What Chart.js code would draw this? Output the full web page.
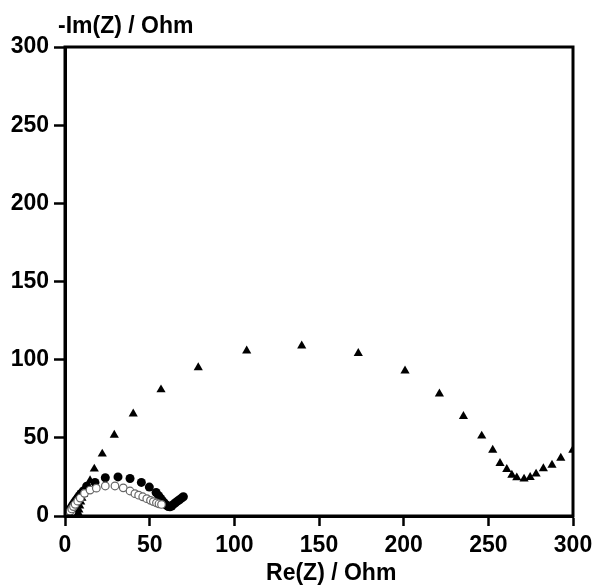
<!DOCTYPE html>
<html>
<head>
<meta charset="utf-8">
<script src="https://cdn.jsdelivr.net/npm/chart.js@4.4.1/dist/chart.umd.min.js"></script>
<style>
  html, body { margin: 0; padding: 0; background: #fff; }
  #wrap { width: 595px; height: 585px; }
</style>
</head>
<body>
<div id="wrap"><canvas id="nyquist"></canvas></div>
<script>
// Nyquist plot, three samples
const triX = [7.5, 7.8, 8.2, 8.7, 9.3, 10, 11, 12.8, 14.8, 17.3, 22.0, 29.1, 40.3, 56.7, 78.7, 107.3, 139.8, 173.2, 200.8, 221.1, 235.3, 246.1, 252.6, 256.9, 260.9, 263.9, 266.8, 271.1, 274.7, 278.2, 282.5, 287.6, 292.8, 299.9];
const triY = [0.5, 2, 4, 6.5, 9, 11.5, 14, 18, 22.6, 30.1, 39.7, 51.8, 65.3, 80.8, 94.9, 105.6, 108.8, 104.1, 92.8, 78.1, 63.8, 51.2, 42.2, 33.7, 29.9, 26.2, 24.5, 23.7, 24.8, 26.9, 30.3, 32.6, 37.1, 42.2];

const fullX = [0.8, 1.5, 2.2, 3, 3.8, 4.6, 5.4, 6.2, 7, 7.8, 8.6, 9.5, 10.8, 12.8, 17.7, 23.8, 31.3, 38.4, 45.1, 49.8, 53.8, 55.3, 56.5, 57.5, 58.5, 59.4, 60.2, 61, 62, 63, 64, 65.2, 66.4, 67.6, 68.8, 69.9];
const fullY = [0.4, 1.5, 2.8, 4.2, 5.6, 7, 8.3, 9.6, 10.8, 12, 13.2, 14.4, 16, 19, 21.5, 24.5, 25, 24, 21.5, 18.5, 15, 13, 11.3, 9.8, 8.5, 7.4, 6.6, 6.1, 5.9, 6.4, 7.4, 8.5, 9.5, 10.4, 11.4, 12.3];

const openX = [1, 2, 3, 4, 5, 6, 7.5, 9, 11.5, 14.8, 18.5, 23.8, 29.5, 34.4, 38.4, 41.3, 43.5, 45.9, 48.3, 50.5, 52.2, 54, 55.5, 57];
const openY = [0.3, 1.5, 3, 4.5, 6, 7.5, 9.5, 11.5, 14.5, 16.6, 17.8, 19.2, 19.2, 18, 16, 14.3, 13.3, 12.3, 11.1, 10, 9.2, 8.4, 7.8, 7.4];

const xTicks = [0, 50, 100, 150, 200, 250, 300];
const yTicks = [0, 50, 100, 150, 200, 250, 300];

const FONT = "'Liberation Sans', Arial, Helvetica, sans-serif";

function pts(xs, ys) {
  return xs.map((x, i) => ({ x: x, y: ys[i] }));
}

// frame on top/right plus the two axis titles
const framePlugin = {
  id: "frame",
  afterDraw(chart) {
    const { ctx, chartArea: a } = chart;
    ctx.save();
    ctx.strokeStyle = "#000";
    ctx.lineWidth = 3;
    ctx.strokeRect(a.left, a.top, a.right - a.left, a.bottom - a.top);
    ctx.fillStyle = "#000";
    ctx.font = "bold 23px " + FONT;
    ctx.textBaseline = "alphabetic";
    ctx.textAlign = "left";
    ctx.fillText("-Im(Z) / Ohm", a.left - 7, a.top - 14);
    ctx.textAlign = "center";
    ctx.fillText("Re(Z) / Ohm", a.left + (a.right - a.left) * 0.524, 580);
    ctx.restore();
  },
};

const ctx = document.getElementById("nyquist").getContext("2d");
new Chart(ctx, {
  type: "scatter",
  data: {
    datasets: [
      {
        label: "open",
        data: pts(openX, openY),
        pointStyle: "circle",
        pointRadius: 3.8,
        backgroundColor: "#fff",
        borderColor: "#666",
        borderWidth: 1.2,
      },
      {
        label: "filled",
        data: pts(fullX, fullY),
        pointStyle: "circle",
        pointRadius: 4.5,
        backgroundColor: "#000",
        borderColor: "#000",
        borderWidth: 0,
      },
      {
        label: "triangle",
        data: pts(triX, triY),
        pointStyle: "triangle",
        pointRadius: 5.3,
        backgroundColor: "#000",
        borderColor: "#000",
        borderWidth: 0,
      },
    ],
  },
  options: {
    responsive: true,
    maintainAspectRatio: false,
    animation: false,
    layout: { padding: { top: 47, right: 22, left: 0, bottom: 0 } },
    plugins: {
      legend: { display: false },
      tooltip: { enabled: false },
    },
    scales: {
      x: {
        type: "linear",
        min: 0,
        max: 300,
        afterBuildTicks: (s) => { s.ticks = xTicks.map((v) => ({ value: v })); },
        afterFit: (s) => { s.height = 69; s.paddingLeft = 0; s.paddingRight = 0; },
        border: { display: true, color: "#000", width: 3 },
        grid: { drawOnChartArea: false, drawTicks: true, tickLength: 10, tickWidth: 2.5, tickColor: "#000" },
        ticks: {
          padding: 6,
          color: "#000",
          font: { size: 23, weight: "bold", family: FONT },
          maxRotation: 0,
        },
      },
      y: {
        type: "linear",
        min: 0,
        max: 300,
        afterBuildTicks: (s) => { s.ticks = yTicks.map((v) => ({ value: v })); },
        afterFit: (s) => { s.width = 65; s.paddingTop = 0; s.paddingBottom = 0; },
        border: { display: true, color: "#000", width: 3 },
        grid: { drawOnChartArea: false, drawTicks: true, tickLength: 11, tickWidth: 2.5, tickColor: "#000" },
        ticks: {
          padding: 5,
          color: "#000",
          font: { size: 23, weight: "bold", family: FONT },
        },
      },
    },
  },
  plugins: [framePlugin],
});
</script>
</body>
</html>
